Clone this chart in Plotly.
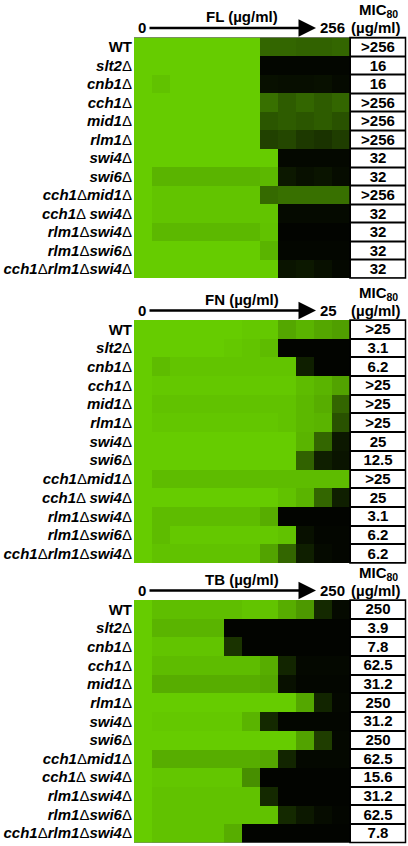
import plotly.graph_objects as go

# strains (rows) and drugs
strains = ["WT", "slt2", "cnb1", "cch1", "mid1", "rlm1", "swi4", "swi6",
           "cch1|mid1", "cch1| swi4", "rlm1|swi4", "rlm1|swi6", "cch1|rlm1|swi4"]
drugs = ["FL", "FN", "TB"]
max_conc = ["256", "25", "250"]

# relative growth (0 = none, 100 = full), 12 two-fold dilutions, low -> high
fl_growth = [
    [100, 100, 100, 100, 100, 100, 100, 50, 50, 48, 48, 50],
    [100, 100, 100, 100, 100, 100, 100, 3, 3, 3, 3, 3],
    [100, 95, 100, 100, 100, 100, 100, 8, 7, 7, 8, 5],
    [100, 100, 100, 100, 100, 100, 100, 55, 45, 50, 45, 50],
    [100, 100, 100, 100, 100, 100, 100, 42, 45, 42, 45, 40],
    [100, 100, 100, 100, 100, 100, 100, 32, 35, 28, 25, 30],
    [100, 100, 100, 100, 100, 100, 100, 100, 4, 4, 4, 4],
    [100, 88, 88, 88, 88, 88, 88, 90, 12, 8, 10, 6],
    [100, 96, 96, 96, 96, 96, 96, 52, 55, 55, 55, 55],
    [100, 96, 96, 96, 96, 96, 96, 96, 5, 5, 5, 5],
    [100, 90, 90, 90, 90, 90, 90, 95, 2, 2, 2, 2],
    [100, 100, 100, 100, 100, 100, 100, 88, 3, 3, 3, 3],
    [100, 100, 100, 100, 100, 100, 100, 100, 10, 12, 8, 4],
]
fn_growth = [
    [100, 100, 100, 100, 100, 100, 98, 98, 82, 88, 82, 78],
    [100, 100, 100, 100, 100, 98, 96, 92, 2, 2, 2, 2],
    [100, 92, 96, 96, 96, 96, 96, 96, 96, 15, 2, 2],
    [100, 98, 98, 98, 98, 98, 98, 98, 98, 92, 88, 80],
    [100, 95, 95, 95, 95, 95, 95, 95, 95, 90, 85, 50],
    [100, 97, 97, 97, 97, 97, 97, 97, 95, 90, 88, 40],
    [100, 100, 100, 100, 100, 100, 100, 100, 100, 88, 50, 12],
    [100, 100, 100, 100, 100, 100, 100, 100, 100, 48, 15, 10],
    [100, 92, 92, 92, 92, 92, 92, 92, 92, 92, 92, 92],
    [100, 100, 100, 100, 100, 100, 100, 100, 95, 88, 50, 15],
    [100, 92, 92, 92, 92, 92, 92, 85, 2, 2, 2, 2],
    [100, 92, 98, 98, 98, 98, 98, 98, 95, 8, 3, 3],
    [100, 95, 95, 95, 95, 95, 95, 80, 50, 15, 5, 3],
]
tb_growth = [
    [100, 93, 93, 93, 93, 93, 96, 96, 85, 75, 20, 5],
    [100, 88, 88, 88, 88, 2, 2, 2, 2, 2, 2, 2],
    [100, 96, 96, 96, 96, 25, 2, 2, 2, 2, 2, 2],
    [100, 92, 92, 92, 92, 92, 92, 85, 18, 4, 4, 4],
    [100, 85, 85, 85, 85, 85, 85, 82, 8, 3, 3, 3],
    [100, 100, 100, 100, 100, 100, 100, 100, 100, 82, 18, 4],
    [100, 98, 98, 98, 98, 98, 88, 20, 3, 3, 3, 3],
    [100, 100, 100, 100, 100, 100, 100, 100, 100, 80, 30, 4],
    [100, 85, 85, 85, 85, 85, 85, 82, 18, 4, 4, 4],
    [100, 97, 97, 97, 97, 97, 70, 2, 2, 2, 2, 2],
    [100, 95, 95, 95, 95, 95, 95, 20, 2, 2, 2, 2],
    [100, 95, 95, 95, 95, 95, 95, 95, 20, 12, 6, 3],
    [100, 95, 95, 95, 95, 85, 2, 2, 2, 2, 2, 2],
]

fl_mic = [">256", "16", "16", ">256", ">256", ">256", "32", "32", ">256", "32", "32", "32", "32"]
fn_mic = [">25", "3.1", "6.2", ">25", ">25", ">25", "25", "12.5", ">25", "25", "3.1", "6.2", "6.2"]
tb_mic = ["250", "3.9", "7.8", "62.5", "31.2", "250", "31.2", "250", "62.5", "15.6", "31.2", "62.5", "7.8"]

growth = [fl_growth, fn_growth, tb_growth]
mics = [fl_mic, fn_mic, tb_mic]

W, H = 408, 846
FONT = "Liberation Sans, Arial, sans-serif"
GREEN = "#66cc00"
panels = [(37.5, 278), (320, 563), (600, 842.5)]  # top/bottom in px
hm_x = (134, 350)
mic_x = (350, 405.5)


def label(s):
    if s == "WT":
        return "<b>WT</b>"
    out = []
    for p in s.split("|"):
        sp = " " if p.startswith(" ") else ""
        out.append(sp + "<b><i>" + p.strip() + "</i></b>Δ")
    return "".join(out)


def py(v):
    return 1 - v / H


def px(v):
    return v / W


fig = go.Figure()
rows = list(range(len(strains)))
ticktext = [label(s) for s in strains]

for i in range(3):
    ya = "y" if i == 0 else "y%d" % (i + 1)
    fig.add_trace(go.Heatmap(
        z=growth[i], x=list(range(12)), y=rows,
        colorscale=[[0, "black"], [1, GREEN]], zmin=0, zmax=100,
        showscale=False, hoverinfo="skip", xaxis="x", yaxis=ya))
    fig.add_trace(go.Heatmap(
        z=[[0] for _ in rows], x=[0], y=rows,
        text=[[m] for m in mics[i]], texttemplate="<b>%{text}</b>",
        textfont=dict(size=15, color="black", family=FONT),
        colorscale=[[0, "white"], [1, "white"]], showscale=False,
        xgap=2, ygap=2, hoverinfo="skip", xaxis="x2", yaxis=ya))

    top, bot = panels[i]
    yax = dict(domain=[py(bot), py(top)], range=[12.5, -0.5],
               tickmode="array", tickvals=rows, ticktext=ticktext,
               tickfont=dict(size=15, color="black", family=FONT),
               showgrid=False, zeroline=False, showline=False, ticks="",
               ticklabelstandoff=1, anchor="x")
    fig.layout["yaxis" if i == 0 else "yaxis%d" % (i + 1)] = yax

    # header: drug, arrow, MIC80
    fig.add_annotation(x=px(242), y=py(top - 21), xref="paper", yref="paper",
                       text="<b>%s (µg/ml)</b>" % drugs[i], showarrow=False,
                       font=dict(size=15), xanchor="center", yanchor="middle")
    fig.add_annotation(x=px(316), y=py(top - 9.5), xref="paper", yref="paper",
                       ax=-168, ay=0, text="", showarrow=True, arrowhead=2,
                       arrowsize=1.4, arrowwidth=2.5, arrowcolor="black")
    fig.add_annotation(x=px(141.5), y=py(top - 10), xref="paper", yref="paper",
                       text="<b>0</b>", showarrow=False, font=dict(size=15),
                       xanchor="center", yanchor="middle")
    fig.add_annotation(x=px(318), y=py(top - 10), xref="paper", yref="paper",
                       text="<b>%s</b>" % max_conc[i], showarrow=False,
                       font=dict(size=15), xanchor="left", yanchor="middle")
    fig.add_annotation(x=px(378), y=py(top - 27), xref="paper", yref="paper",
                       text="<b>MIC<sub>80</sub></b>", showarrow=False,
                       font=dict(size=15), xanchor="center", yanchor="middle")
    fig.add_annotation(x=px(375), y=py(top - 10), xref="paper", yref="paper",
                       text="<b>(µg/ml)</b>", showarrow=False,
                       font=dict(size=15), xanchor="center", yanchor="middle")
    fig.add_shape(type="rect", xref="x2 domain", yref=ya + " domain",
                  x0=0, x1=1, y0=0, y1=1, line=dict(color="black", width=1.5))

fig.update_layout(
    width=W, height=H,
    margin=dict(l=0, r=0, t=0, b=0),
    paper_bgcolor="white", plot_bgcolor="black",
    font=dict(family=FONT, color="black"),
    xaxis=dict(domain=[px(hm_x[0]), px(hm_x[1])], range=[-0.5, 11.5],
               visible=False, anchor="y"),
    xaxis2=dict(domain=[px(mic_x[0]), px(mic_x[1])], range=[-0.5, 0.5],
                visible=False, anchor="y"),
    showlegend=False,
)

fig.write_html("out.html", config={"displayModeBar": False},
               post_script="document.body.style.margin='0px';")
